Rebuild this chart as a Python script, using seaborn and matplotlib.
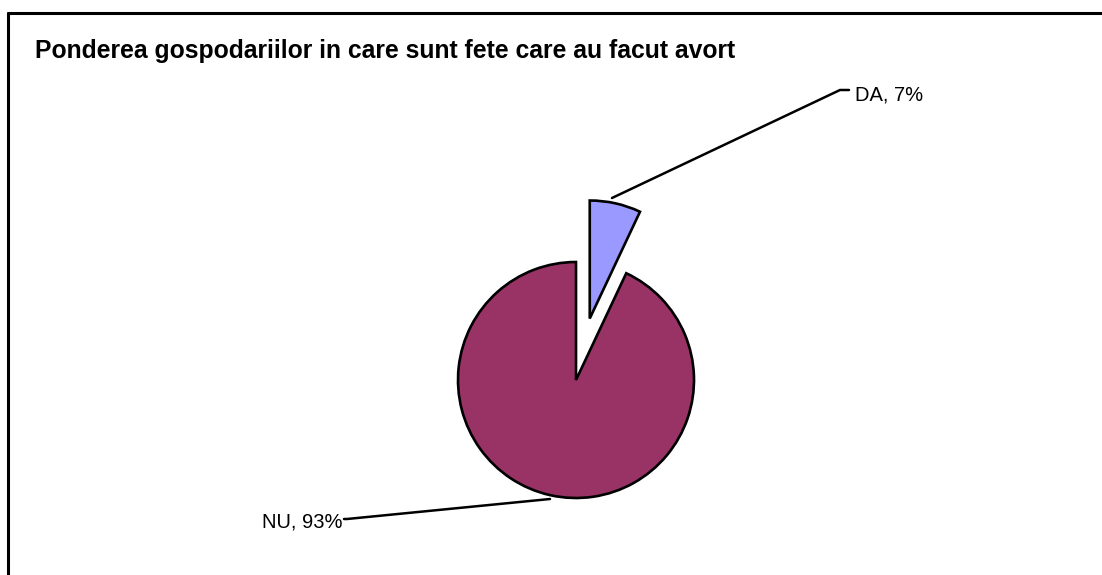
"""
Pie chart: share of households with girls who had an abortion.
"""

import matplotlib
matplotlib.use("Agg")
import matplotlib.pyplot as plt
import seaborn as sns

# Data
labels = ["DA", "NU"]
values = [7, 93]
colors = ["#9999FF", "#993366"]
title = "Ponderea gospodariilor in care sunt fete care au facut avort"

W, H = 1102, 575


def main():
    sns.set_theme(style="white")
    plt.rcParams['font.family'] = ['Liberation Sans', 'DejaVu Sans']
    plt.rcParams['text.color'] = 'black'

    fig = plt.figure(figsize=(W / 100, H / 100), dpi=100)
    ax = fig.add_axes([0, 0, 1, 1])
    ax.axis('off')

    # Pie (first slice starts at 12 o'clock, clockwise, like Excel)
    # explode is in data units (pixels here)
    ax.pie(values, colors=colors, startangle=90, counterclock=False,
           explode=[63, 0], center=(576, H - 380), radius=118,
           wedgeprops=dict(edgecolor='black', linewidth=1.9))
    ax.set_xlim(0, W)
    ax.set_ylim(0, H)
    ax.set_aspect('equal')

    # Data labels with leader lines
    ax.plot([612, 840, 849], [H - 198, H - 90, H - 90], color='black', lw=1.8)
    ax.text(855, H - 95, f"{labels[0]}, {values[0]}%", fontsize=14.5,
            ha='left', va='center')
    ax.plot([550, 347, 344], [H - 499, H - 519, H - 519], color='black', lw=1.8)
    ax.text(342, H - 522, f"{labels[1]}, {values[1]}%", fontsize=14.5,
            ha='right', va='center')

    # Title
    fig.text(35 / W, 1 - 51 / H, title, fontsize=17.8, fontweight='bold',
             ha='left', va='center')

    # Chart area border (top and left visible)
    ax.plot([8, W], [H - 13, H - 13], color='black', lw=2.2, clip_on=False)
    ax.plot([8, 8], [H - 13, 0], color='black', lw=2.2, clip_on=False)

    fig.savefig("out.png", dpi=100)
    plt.close(fig)


if __name__ == "__main__":
    main()
